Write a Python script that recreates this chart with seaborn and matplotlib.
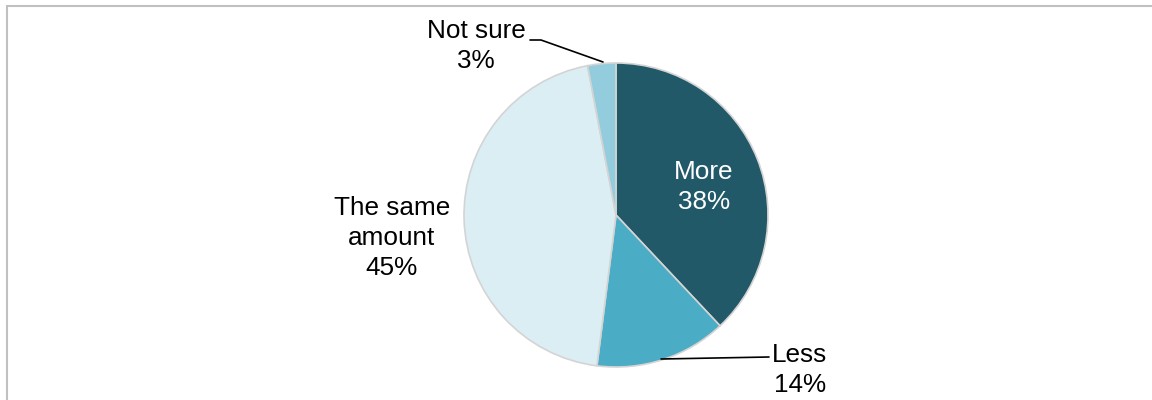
import matplotlib
matplotlib.use("Agg")
import matplotlib.pyplot as plt
import seaborn as sns
from matplotlib.lines import Line2D

categories = ["More", "Less", "The same\namount", "Not sure"]
values = [38, 14, 45, 3]
colors = ["#215968", "#4BACC6", "#DBEEF4", "#93CDDD"]

sns.set_theme(style="white")
plt.rcParams['font.family'] = ['Liberation Sans', 'DejaVu Sans']

W, H = 1152, 400
fig = plt.figure(figsize=(W / 100, H / 100), dpi=100)

cx, cy, r = 616, 215, 152
ax = fig.add_axes([(cx - r) / W, (H - cy - r) / H, 2 * r / W, 2 * r / H])
ax.pie(values, colors=colors, startangle=90, counterclock=False,
       wedgeprops=dict(edgecolor="#D4D4D4", linewidth=1.2))
ax.set_xlim(-1, 1)
ax.set_ylim(-1, 1)
ax.set_aspect("equal")
ax.axis("off")


def px(x, y):
    return (x - cx) / r, (cy - y) / r


fs = 18.8
ls = 1.32
labels = [f"{c}\n{v}%" for c, v in zip(categories, values)]
ax.text(*px(704, 187), labels[0], ha="center", va="center", color="white", fontsize=fs,
        linespacing=ls, clip_on=False)
ax.text(*px(800, 370), labels[1], ha="center", va="center", color="black", fontsize=fs,
        linespacing=ls, clip_on=False)
ax.text(*px(392, 238), labels[2], ha="center", va="center", color="black", fontsize=fs,
        linespacing=ls, clip_on=False)
ax.text(*px(476, 46), labels[3], ha="center", va="center", color="black", fontsize=fs,
        linespacing=ls, clip_on=False)

# leader lines
x1, y1 = px(603, 62)
x2, y2 = px(541, 40)
x3, y3 = px(530, 40)
ax.plot([x1, x2, x3], [y1, y2, y3], color="black", lw=1.2, clip_on=False)
x1, y1 = px(661, 359)
x2, y2 = px(769, 357)
ax.plot([x1, x2], [y1, y2], color="black", lw=1.2, clip_on=False)

# chart frame (left and top edges visible)
fig.add_artist(Line2D([6.5 / W, 6.5 / W], [0, (H - 5.5) / H], color="#C0C0C0", lw=1.5,
                      transform=fig.transFigure))
fig.add_artist(Line2D([6.5 / W, 1], [(H - 5.5) / H, (H - 5.5) / H], color="#C0C0C0", lw=1.5,
                      transform=fig.transFigure))

fig.savefig("out.png", dpi=100, facecolor="white")
